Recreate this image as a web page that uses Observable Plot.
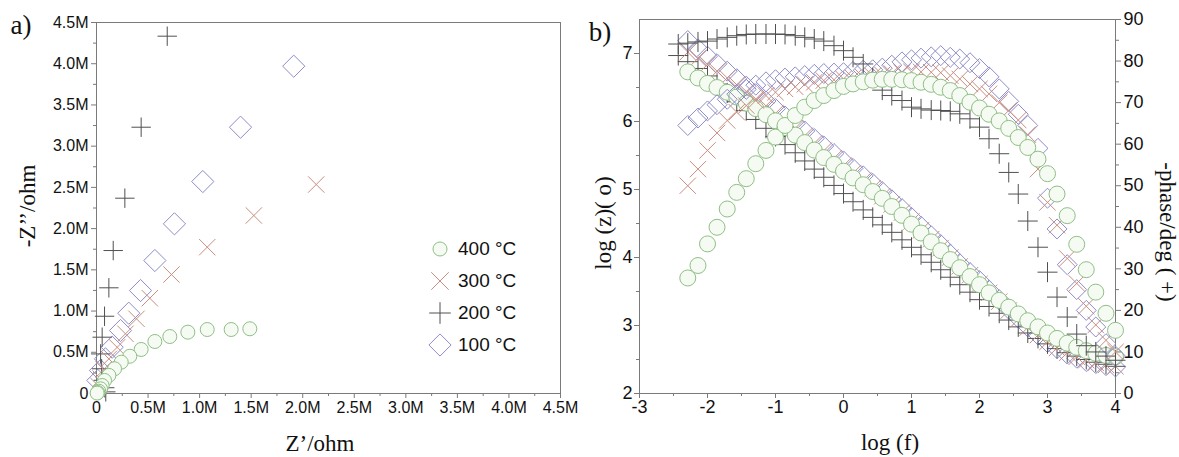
<!DOCTYPE html>
<html><head><meta charset="utf-8">
<script src="https://cdn.jsdelivr.net/npm/d3@7"></script>
<script src="https://cdn.jsdelivr.net/npm/@observablehq/plot@0.6"></script>
<style>
html,body{margin:0;padding:0;background:#fff;}
#wrap{position:relative;width:1179px;height:457px;overflow:hidden;font-family:"Liberation Sans",Arial,sans-serif;}
.t{position:absolute;font-family:"Liberation Serif","Times New Roman",serif;color:#111;white-space:nowrap;transform:translate(-50%,-50%);font-size:23px;line-height:1;}
.lg{position:absolute;left:428px;top:233px;font-family:"Liberation Sans",Arial,sans-serif;font-size:19px;color:#111;}
.lg div{height:32px;display:flex;align-items:center;}
.lg svg{margin-right:6px;}
</style></head><body><div id="wrap"></div>
<script>
// ---------- Panel a: Nyquist (values in M ohm) ----------
const series = ["400 °C", "300 °C", "200 °C", "100 °C"];
const zRe400 = [1.487,1.306,1.074,0.886,0.711,0.566,0.433,0.323,0.240,0.175,0.120,0.078,0.055,0.039,0.022,0.012,0.006];
const zIm400 = [0.785,0.776,0.776,0.744,0.691,0.631,0.534,0.452,0.380,0.300,0.220,0.158,0.097,0.057,0.028,0.012,0.005];
const zRe300 = [2.131,1.526,1.074,0.727,0.517,0.388,0.281,0.200,0.120,0.070,0.040,0.020];
const zIm300 = [2.535,2.159,1.775,1.443,1.156,0.906,0.724,0.560,0.420,0.290,0.180,0.090];
const zRe200 = [0.686,0.433,0.275,0.162,0.120,0.078,0.055,0.040,0.050,0.065,0.080,0.090];
const zIm200 = [4.334,3.230,2.369,1.734,1.282,0.937,0.683,0.480,0.300,0.160,0.070,0.020];
const zRe100 = [1.913,1.397,1.031,0.756,0.566,0.427,0.313,0.233,0.152,0.087,0.039,0.013];
const zIm100 = [3.970,3.230,2.571,2.058,1.613,1.249,0.974,0.764,0.562,0.420,0.279,0.158];
const nyqTicks = [0,0.5,1.0,1.5,2.0,2.5,3.0,3.5,4.0,4.5];
const nyqMinor = [0.25,0.75,1.25,1.75,2.25,2.75,3.25,3.75,4.25];

// ---------- Panel b: Bode (log f, log|Z|, -phase) ----------
const logF = [-2.43,-2.29,-2.14,-2.00,-1.86,-1.71,-1.57,-1.43,-1.29,-1.14,-1.00,-0.86,-0.71,-0.57,-0.43,-0.29,-0.14,0.00,0.14,0.29,0.43,0.57,0.71,0.86,1.00,1.14,1.29,1.43,1.57,1.71,1.86,2.00,2.14,2.29,2.43,2.57,2.71,2.86,3.00,3.14,3.29,3.43,3.57,3.71,3.86,4.00];
const logZ400 = [null,6.73,6.64,6.56,6.50,6.43,6.36,6.27,6.19,6.10,6.01,5.91,5.80,5.69,5.58,5.47,5.37,5.27,5.17,5.07,4.97,4.87,4.75,4.62,4.49,4.36,4.23,4.10,3.97,3.85,3.72,3.60,3.48,3.37,3.27,3.17,3.07,2.98,2.89,2.81,2.74,2.68,2.63,2.59,2.56,2.54];
const logZ300 = [null,7.02,6.93,6.84,6.74,6.64,6.54,6.44,6.33,6.23,6.12,6.01,5.90,5.79,5.68,5.57,5.46,5.35,5.24,5.13,5.02,4.90,4.78,4.66,4.53,4.40,4.27,4.14,4.00,3.87,3.74,3.61,3.48,3.35,3.22,3.09,2.97,2.86,2.76,2.67,2.60,2.54,2.49,2.45,2.42,2.40];
const logZ200 = [6.97,6.88,6.78,6.67,6.55,6.42,6.29,6.16,6.03,5.90,5.78,5.66,5.54,5.42,5.30,5.18,5.06,4.94,4.82,4.70,4.59,4.48,4.37,4.26,4.15,4.04,3.93,3.82,3.71,3.60,3.49,3.38,3.28,3.18,3.08,2.98,2.89,2.81,2.73,2.66,2.60,2.55,2.50,2.46,2.43,2.40];
const logZ100 = [null,7.19,7.07,6.96,6.85,6.74,6.63,6.52,6.41,6.30,6.19,6.08,5.97,5.86,5.75,5.64,5.53,5.42,5.31,5.20,5.09,4.97,4.85,4.72,4.59,4.46,4.32,4.19,4.05,3.91,3.78,3.66,3.52,3.38,3.24,3.11,2.98,2.86,2.75,2.66,2.58,2.52,2.47,2.44,2.41,2.39];
const phase400 = [null,27.8,30.8,36.0,40.0,44.4,48.4,51.7,55.3,58.5,61.7,64.5,66.9,68.9,70.5,71.7,72.9,73.9,74.5,75.0,75.4,75.6,75.6,75.5,75.3,74.9,74.4,73.7,72.9,71.7,70.1,68.7,67.2,65.6,63.8,61.6,59.2,56.4,52.9,48.0,42.8,35.9,29.8,24.4,19.3,15.2];
const phase300 = [null,50.0,54.0,58.5,62.7,65.7,67.7,69.3,70.5,71.7,72.5,73.3,73.8,74.4,74.9,75.3,75.5,75.7,75.9,76.1,76.4,76.7,77.0,77.2,77.4,77.4,77.3,77.2,76.5,75.7,74.5,73.3,72.1,70.0,68.1,65.8,62.3,54.0,46.0,40.5,32.5,26.5,21.0,16.5,12.8,10.0];
const phase200 = [84.1,84.3,84.6,84.8,85.3,85.7,86.1,86.4,86.5,86.5,86.5,86.4,86.1,85.7,85.3,84.8,83.7,82.5,80.9,79.3,76.0,73.0,71.7,70.5,68.9,68.5,68.2,68.1,67.9,67.3,66.1,64.1,61.3,57.7,53.2,48.0,41.5,35.2,29.2,23.2,18.4,14.3,11.5,10.0,9.0,8.0];
const phase100 = [null,64.5,66.3,68.0,69.5,70.8,72.0,73.2,74.2,75.0,75.5,75.9,76.2,76.5,76.8,77.0,77.1,77.2,77.5,77.8,77.9,78.3,79.0,79.8,80.3,80.7,81.0,81.3,80.9,80.5,79.6,78.2,76.2,73.3,70.3,67.2,64.5,59.0,47.0,39.6,31.0,25.0,20.0,16.0,12.0,9.0];
const fTicks = [-3,-2,-1,0,1,2,3,4];
const fMinor = [-2.5,-1.5,-0.5,0.5,1.5,2.5,3.5];
const zTicks = [2,3,4,5,6,7];
const zMinor = [2.5,3.5,4.5,5.5,6.5];
const pTicks = [0,10,20,30,40,50,60,70,80,90];
const pMinor = [5,15,25,35,45,55,65,75,85];

// ---------- styles ----------
const sty = {
  "400 °C": {symbol: "circle", stroke: "#8fbf85", fill: "#f5faf2"},
  "300 °C": {symbol: "times", stroke: "#c98e80", fill: "none"},
  "200 °C": {symbol: "plus", stroke: "#505050", fill: "none"},
  "100 °C": {symbol: "diamond2", stroke: "#8c8cc8", fill: "none"}
};
const drawOrder = ["100 °C", "200 °C", "300 °C", "400 °C"];
const rA = {"400 °C": 7, "300 °C": 7.5, "200 °C": 6.3, "100 °C": 10};
const rB = {"400 °C": 8, "300 °C": 7.5, "200 °C": 6.5, "100 °C": 9};

const nyq = {
  "400 °C": zRe400.map((v, i) => ({x: v, y: zIm400[i]})),
  "300 °C": zRe300.map((v, i) => ({x: v, y: zIm300[i]})),
  "200 °C": zRe200.map((v, i) => ({x: v, y: zIm200[i]})),
  "100 °C": zRe100.map((v, i) => ({x: v, y: zIm100[i]}))
};
const magB = {"400 °C": logZ400, "300 °C": logZ300, "200 °C": logZ200, "100 °C": logZ100};
const phB = {"400 °C": phase400, "300 °C": phase300, "200 °C": phase200, "100 °C": phase100};
const rowsOf = arr => logF.map((f, i) => ({x: f, y: arr[i]})).filter(d => d.y != null);

const wrap = document.getElementById("wrap");
const axisCol = "#7a7a7a";

// Panel a
const fmtM = d => d === 0 ? "0" : d.toFixed(1) + "M";
const plotA = Plot.plot({
  width: 580, height: 457,
  marginLeft: 96, marginRight: 20, marginTop: 22, marginBottom: 64,
  style: {position: "absolute", left: "0px", top: "0px", background: "transparent", fontFamily: "'Liberation Sans', Arial, sans-serif", fontSize: "16px", overflow: "visible"},
  x: {domain: [0, 4.5]},
  y: {domain: [0, 4.5]},
  marks: [
    Plot.frame({stroke: axisCol}),
    Plot.axisX({ticks: nyqTicks, tickFormat: fmtM, tickSize: 5, tickPadding: 3, label: null, stroke: axisCol, fill: "#111"}),
    Plot.axisX({ticks: nyqMinor, tickSize: 3, text: null, label: null, stroke: axisCol}),
    Plot.axisY({ticks: nyqTicks, tickFormat: fmtM, tickSize: 5, tickPadding: 3, label: null, stroke: axisCol, fill: "#111"}),
    Plot.axisY({ticks: nyqMinor, tickSize: 3, text: null, label: null, stroke: axisCol}),
    ...drawOrder.map(s => Plot.dot(nyq[s], {x: "x", y: "y", r: rA[s], symbol: sty[s].symbol, stroke: sty[s].stroke, fill: sty[s].fill, strokeWidth: 1}))
  ]
});
wrap.appendChild(plotA);

// Panel b - magnitude (left axis)
const bOpts = {
  width: 619, height: 457,
  marginLeft: 79, marginRight: 64, marginTop: 19, marginBottom: 64
};
const bStyle = {position: "absolute", left: "560px", top: "0px", background: "transparent", fontFamily: "'Liberation Sans', Arial, sans-serif", fontSize: "18px", overflow: "visible"};
const plotB1 = Plot.plot({
  ...bOpts, style: bStyle,
  x: {domain: [-3, 4]},
  y: {domain: [2, 7.5]},
  marks: [
    Plot.frame({stroke: axisCol}),
    Plot.axisX({ticks: fTicks, tickFormat: d => String(d), tickSize: 5, tickPadding: 2, label: null, stroke: axisCol, fill: "#111"}),
    Plot.axisX({ticks: fMinor, tickSize: 3, text: null, label: null, stroke: axisCol}),
    Plot.axisY({ticks: zTicks, tickFormat: d => String(d), tickSize: 5, tickPadding: 2, label: null, stroke: axisCol, fill: "#111"}),
    Plot.axisY({ticks: zMinor, tickSize: 3, text: null, label: null, stroke: axisCol}),
    ...drawOrder.map(s => Plot.dot(rowsOf(magB[s]), {x: "x", y: "y", r: rB[s], symbol: sty[s].symbol, stroke: sty[s].stroke, fill: sty[s].fill, strokeWidth: 1}))
  ]
});
wrap.appendChild(plotB1);

// Panel b - phase (right axis)
const plotB2 = Plot.plot({
  ...bOpts, style: bStyle,
  x: {domain: [-3, 4], axis: null},
  y: {domain: [0, 90]},
  marks: [
    Plot.axisY({anchor: "right", ticks: pTicks, tickFormat: d => String(d), tickSize: 5, tickPadding: 3, label: null, stroke: axisCol, fill: "#111"}),
    Plot.axisY({anchor: "right", ticks: pMinor, tickSize: 3, text: null, label: null, stroke: axisCol}),
    ...drawOrder.map(s => Plot.dot(rowsOf(phB[s]), {x: "x", y: "y", r: rB[s], symbol: sty[s].symbol, stroke: sty[s].stroke, fill: sty[s].fill, strokeWidth: 1}))
  ]
});
wrap.appendChild(plotB2);

// Titles
const addText = (txt, x, y, rot, size) => {
  const d = document.createElement("div");
  d.className = "t";
  d.textContent = txt;
  d.style.left = x + "px";
  d.style.top = y + "px";
  if (size) d.style.fontSize = size + "px";
  if (rot) d.style.transform = `translate(-50%,-50%) rotate(${rot}deg)`;
  wrap.appendChild(d);
};
addText("a)", 21, 25, 0, 27);
addText("b)", 600, 32, 0, 27);
addText("-Z’’/ohm", 27, 206, -90);
addText("Z’/ohm", 320, 443, 0);
addText("log (z)( o)", 603, 223, -90);
addText("log (f)", 890, 442, 0);
addText("-phase/deg ( +)", 1167, 232, 90);

// Legend (panel a)
const lg = document.createElement("div");
lg.className = "lg";
const symMap = {circle: d3.symbolCircle, times: d3.symbolTimes, plus: d3.symbolPlus, diamond2: d3.symbolDiamond2};
const rLeg = {"400 °C": 7, "300 °C": 8, "200 °C": 7, "100 °C": 10};
series.forEach(s => {
  const row = document.createElement("div");
  const sv = d3.create("svg").attr("width", 24).attr("height", 24);
  sv.append("path").attr("transform", "translate(12,12)")
    .attr("d", d3.symbol(symMap[sty[s].symbol], Math.PI * rLeg[s] * rLeg[s])())
    .attr("fill", sty[s].fill).attr("stroke", sty[s].stroke).attr("stroke-width", 1);
  row.appendChild(sv.node());
  const sp = document.createElement("span");
  sp.textContent = s;
  row.appendChild(sp);
  lg.appendChild(row);
});
wrap.appendChild(lg);
</script></body></html>
